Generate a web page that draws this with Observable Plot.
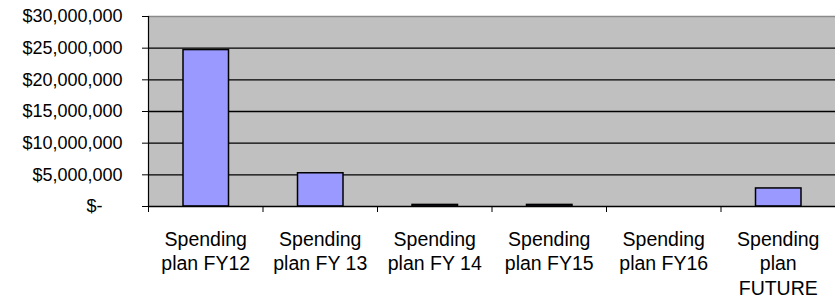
<!DOCTYPE html>
<html>
<head>
<meta charset="utf-8">
<script src="https://cdn.jsdelivr.net/npm/d3@7"></script>
<script src="https://cdn.jsdelivr.net/npm/@observablehq/plot@0.6"></script>
<style>
  html, body { margin: 0; padding: 0; background: white; overflow: hidden; }
</style>
</head>
<body>
<div id="chart"></div>
<script>
const categories = ["Spending plan FY12", "Spending plan FY 13", "Spending plan FY 14", "Spending plan FY15", "Spending plan FY16", "Spending plan FUTURE"];
const categoryLabels = ["Spending\nplan FY12", "Spending\nplan FY 13", "Spending\nplan FY 14", "Spending\nplan FY15", "Spending\nplan FY16", "Spending\nplan\nFUTURE"];
const values = [24700000, 5250000, 250000, 250000, 0, 2850000];
const yTicks = [0, 5000000, 10000000, 15000000, 20000000, 25000000, 30000000];
const yTickLabels = ["$-", "$5,000,000", "$10,000,000", "$15,000,000", "$20,000,000", "$25,000,000", "$30,000,000"];

const data = categories.map((c, i) => ({category: c, index: i, value: values[i]}));
const centers = categories.map((c, i) => i + 0.5);
const bounds = d3.range(categories.length + 1);

const chart = Plot.plot({
  width: 835,
  height: 302,
  marginLeft: 148,
  marginRight: 0,
  marginTop: 16,
  marginBottom: 96,
  style: {fontFamily: "'Liberation Sans', Arial, sans-serif", fontSize: "18px", color: "black", background: "white"},
  x: {type: "linear", domain: [0, categories.length], axis: null, label: null},
  y: {domain: [0, 30000000], axis: null, label: null},
  marks: [
    Plot.frame({fill: "#C0C0C0", stroke: null}),
    Plot.gridY(yTicks.filter(t => t > 0 && t < 30000000), {stroke: "black", strokeOpacity: 1, strokeWidth: 1.3}),
    Plot.ruleY([30000000], {stroke: "#8a8a8a", strokeWidth: 1.5}),
    Plot.rectY(data, {x1: d => d.index, x2: d => d.index + 1, y1: 0, y2: "value", fill: "#9999FF", stroke: "black", strokeWidth: 1.5, insetLeft: 35, insetRight: 34, filter: d => d.value > 0}),
    Plot.ruleY([0], {stroke: "black", strokeWidth: 1.5}),
    Plot.ruleX([0], {stroke: "black", strokeWidth: 1.2}),
    Plot.axisY({
      ticks: yTicks,
      label: null,
      tickFormat: d => { const i = yTicks.indexOf(d); return i === 0 ? yTickLabels[i] + "\u00a0\u00a0\u00a0\u00a0" : yTickLabels[i]; },
      tickSize: 6, tickPadding: 20, fontSize: 18, stroke: "black"
    }),
    Plot.axisX({ticks: bounds, label: null, tickFormat: () => "", tickSize: 6, stroke: "black"}),
    Plot.axisX({
      ticks: centers,
      label: null,
      tickFormat: d => categoryLabels[Math.round(d - 0.5)],
      tickSize: 0, tickPadding: 22, fontSize: 19.5, lineHeight: 1.25
    })
  ]
});
document.getElementById("chart").appendChild(chart);
</script>
</body>
</html>
